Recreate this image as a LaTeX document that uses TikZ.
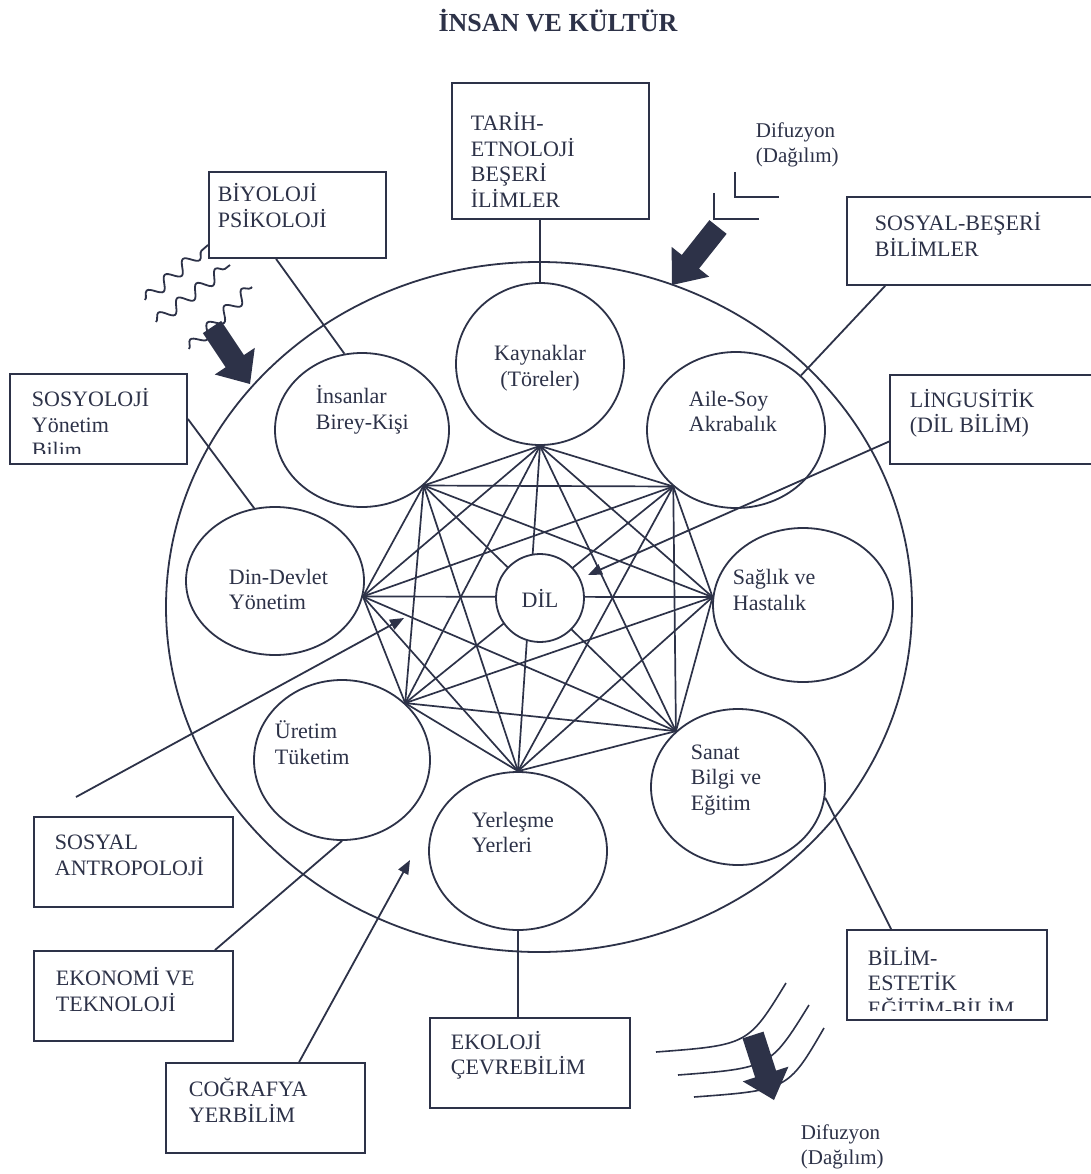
\documentclass[tikz,border=0pt]{standalone}
\usepackage{fontspec}
\setmainfont{Liberation Serif}
\usetikzlibrary{calc,arrows.meta,decorations.pathmorphing,shapes.geometric}
\definecolor{ink}{RGB}{45,50,72}
\newcommand{\blkarrow}[2]{%
  \path (#1) -- (#2) coordinate[pos=0.6] (bb);
  \fill ($(#1)!11pt!90:(#2)$) -- ($(bb)!11pt!90:(#2)$) -- ($(bb)!24pt!90:(#2)$) -- (#2)
     -- ($(bb)!24pt!-90:(#2)$) -- ($(bb)!11pt!-90:(#2)$) -- ($(#1)!11pt!-90:(#2)$) -- cycle;}
\begin{document}
\begin{tikzpicture}[x=1pt,y=-1pt, line width=1.8pt, color=ink,
  lbl/.style={inner sep=0pt, anchor=west, align=left, font=\fontsize{22}{25.5}\selectfont},
  ctr/.style={inner sep=0pt, align=center, font=\fontsize{22}{25.5}\selectfont},
  dif/.style={inner sep=0pt, anchor=west, align=left, font=\fontsize{21}{25}\selectfont},
  boxst/.style={draw, rectangle, inner sep=0pt},
  circ/.style={draw, ellipse, inner sep=0pt},
  net/.style={line width=1.7pt},
  arr/.style={-{Triangle[length=14pt,width=11pt]}},
  wave/.style={decorate, decoration={snake, amplitude=6pt, segment length=24pt}},
]
\useasboundingbox (0,0) rectangle (1091,1174);
\fill[white] (0,0) rectangle (1091,1174);
\clip (0,0) rectangle (1091,1174);

% title
\node[inner sep=0pt, font=\fontsize{26}{30}\selectfont\bfseries] (title) at (558,21) {İNSAN VE KÜLTÜR};

% boxes
\node[boxst, minimum width=197pt, minimum height=136pt] (tar) at (550.5,151) {};
\node[boxst, minimum width=177pt, minimum height=86pt] (bio) at (297.5,215) {};
\node[boxst, minimum width=263pt, minimum height=88pt] (sb) at (978.5,241) {};
\node[boxst, minimum width=177pt, minimum height=90pt] (sos) at (98.5,419) {};
\node[boxst, minimum width=220pt, minimum height=89pt] (lin) at (1000,419.5) {};
\node[boxst, minimum width=199pt, minimum height=90pt] (sa) at (133.5,862) {};
\node[boxst, minimum width=199pt, minimum height=90pt] (ekn) at (133.5,996) {};
\node[boxst, minimum width=199pt, minimum height=90pt] (cog) at (265.5,1108) {};
\node[boxst, minimum width=200pt, minimum height=90pt] (ekol) at (530,1063) {};
\node[boxst, minimum width=200pt, minimum height=90pt] (bil) at (947,975) {};

% outer circle and inner circles
\node[circ, minimum width=746pt, minimum height=690pt] (outer) at (539,607) {};
\node[circ, minimum width=168pt, minimum height=162pt] (kay) at (540,364) {};
\node[circ, minimum width=174pt, minimum height=154pt] (ins) at (362,430) {};
\node[circ, minimum width=178pt, minimum height=156pt] (aile) at (736,430) {};
\node[circ, minimum width=178pt, minimum height=148pt] (din) at (275,581) {};
\node[circ, minimum width=180pt, minimum height=154pt] (sag) at (803,605) {};
\node[circ, minimum width=176pt, minimum height=160pt] (ure) at (342,760) {};
\node[circ, minimum width=174pt, minimum height=156pt] (san) at (738,787) {};
\node[circ, minimum width=178pt, minimum height=158pt] (yer) at (518,851) {};

% network vertices
\coordinate (v1) at (kay.south);
\coordinate (v2) at (ins.-42);
\coordinate (v3) at (aile.-138);
\coordinate (v4) at (din.-10);
\coordinate (v5) at (sag.175);
\coordinate (v6) at (ure.42);
\coordinate (v7) at (san.138);
\coordinate (v8) at (yer.north);
\foreach \a/\b in {v1/v2,v1/v3,v1/v4,v1/v5,v1/v6,v1/v7,v1/v8,
                   v2/v3,v2/v4,v2/v5,v2/v6,v2/v7,v2/v8,
                   v3/v4,v3/v5,v3/v6,v3/v7,v3/v8,
                   v4/v5,v4/v6,v4/v7,v4/v8,
                   v5/v6,v5/v7,v5/v8,
                   v6/v7,v6/v8,
                   v7/v8}
  \draw[net] (\a) -- (\b);

% centre
\node[circle, draw, fill=white, minimum size=88pt, inner sep=0pt,
      font=\fontsize{22}{25.5}\selectfont] (dil) at (540,598) {DİL};

% connectors
\draw (kay.north |- tar.south) -- (kay.north);
\draw ($(bio.south west)!0.38!(bio.south east)$) -- (ins.103);
\draw (sos.east) -- (din.106);
\draw ([xshift=39pt]sb.south west) -- (aile.40);
\coordinate (lintip) at (588,575);
\draw[arr] ([yshift=-22pt]lin.west) -- (lintip);
\coordinate (satail) at (76,797);
\coordinate (satip) at (404,618);
\draw[arr] (satail) -- (satip);
\draw ([xshift=-19pt]ekn.north east) -- (ure.south);
\coordinate (cogtip) at (410,860);
\draw[arr] ([xshift=134pt]cog.north west) -- (cogtip);
\draw (yer.south) -- (yer.south |- ekol.north);
\draw (san.-7) -- ([xshift=45pt]bil.north west);

% L marks near Difuzyon
\coordinate (l1a) at (735,172); \coordinate (l1b) at (735,197); \coordinate (l1c) at (779,197);
\draw[line width=1.6pt] (l1a) -- (l1b) -- (l1c);
\coordinate (l2a) at (714,193); \coordinate (l2b) at (714,219); \coordinate (l2c) at (759,219);
\draw[line width=1.6pt] (l2a) -- (l2b) -- (l2c);

% block arrows
\coordinate (ta1) at (718,227); \coordinate (tp1) at (672,285);
\blkarrow{ta1}{tp1}
\coordinate (ta2) at (212,327); \coordinate (tp2) at (250,384);
\blkarrow{ta2}{tp2}
\coordinate (ta3) at (753,1035); \coordinate (tp3) at (774,1100);
\blkarrow{ta3}{tp3}

% wavy lines
\coordinate (w1a) at (145,300); \coordinate (w1b) at (208,245);
\coordinate (w2a) at (156,322); \coordinate (w2b) at (230,265);
\coordinate (w3a) at (189,349); \coordinate (w3b) at (252,287);
\draw[wave] (w1a) -- (w1b);
\draw[wave] (w2a) -- (w2b);
\draw[wave] (w3a) -- (w3b);

% arcs
\coordinate (a1s) at (786,983);  \coordinate (a1c) at (748,1045); \coordinate (a1e) at (656,1052);
\coordinate (a2s) at (809,1005); \coordinate (a2c) at (770,1068); \coordinate (a2e) at (678,1075);
\coordinate (a3s) at (824,1028); \coordinate (a3c) at (788,1090); \coordinate (a3e) at (694,1097);
\draw[line width=1.6pt] (a1s) .. controls (a1c) .. (a1e);
\draw[line width=1.6pt] (a2s) .. controls (a2c) .. (a2e);
\draw[line width=1.6pt] (a3s) .. controls (a3c) .. (a3e);

% box texts
\node[lbl] (tartxt) at (470,160) {TARİH-\\ETNOLOJİ\\BEŞERİ\\İLİMLER};
\node[lbl] (biotxt) at (217,205.5) {BİYOLOJİ\\PSİKOLOJİ};
\node[lbl] (sbtxt) at (874,234.5) {SOSYAL-BEŞERİ\\BİLİMLER};
\begin{scope}
  \clip (10,374) rectangle (187,453);
  \node[lbl] (sostxt) at (31,423) {SOSYOLOJİ\\Yönetim\\Bilim};
\end{scope}
\node[lbl] (lintxt) at (909,413.5) {LİNGUSİTİK\\(DİL BİLİM)};
\node[lbl] (satxt) at (54,855.5) {SOSYAL\\ANTROPOLOJİ};
\node[lbl] (ekntxt) at (55,989.5) {EKONOMİ VE\\TEKNOLOJİ};
\node[lbl] (cogtxt) at (188,1100) {COĞRAFYA\\YERBİLİM};
\node[lbl] (ekoltxt) at (450,1055.5) {EKOLOJİ\\ÇEVREBİLİM};
\begin{scope}
  \clip (847,930) rectangle (1047,1010);
  \node[lbl] (biltxt) at (867,982) {BİLİM-\\ESTETİK\\EĞİTİM-BİLİM};
\end{scope}

% circle texts
\node[ctr] (kaytxt) at (540,368) {Kaynaklar\\(Töreler)};
\node[lbl] (instxt) at (315,410) {İnsanlar\\Birey-Kişi};
\node[lbl] (ailetxt) at (688,411.5) {Aile-Soy\\Akrabalık};
\node[lbl] (dintxt) at (228,589.5) {Din-Devlet\\Yönetim};
\node[lbl] (sagtxt) at (732,590) {Sağlık ve\\Hastalık};
\node[lbl] (uretxt) at (274,742.5) {Üretim\\Tüketim};
\node[lbl] (santxt) at (690,780) {Sanat\\Bilgi ve\\Eğitim};
\node[lbl] (yertxt) at (471,832.5) {Yerleşme\\Yerleri};

% diffusion labels
\node[dif] (dif1) at (755,144.5) {Difuzyon\\(Dağılım)};
\node[dif] (dif2) at (800,1146.5) {Difuzyon\\(Dağılım)};
\end{tikzpicture}
\end{document}
